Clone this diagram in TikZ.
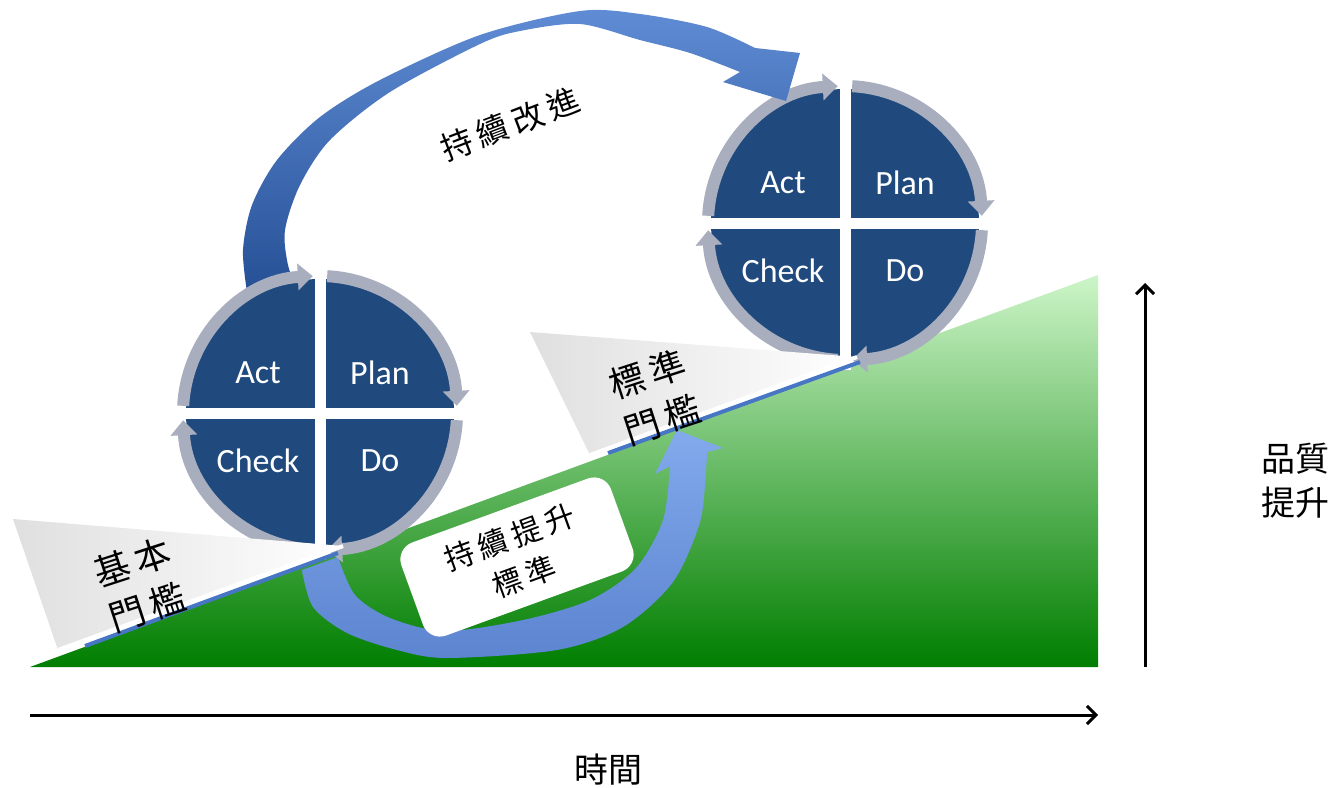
\documentclass[tikz,border=0pt]{standalone}
\usepackage{fontspec}
\setmainfont{Carlito}
\newfontfamily\cjk{Noto Sans CJK TC}
\newfontfamily\cjkwide[LetterSpace=18]{Noto Sans CJK TC}
\usetikzlibrary{arrows.meta}

\definecolor{pdcablue}{RGB}{32,74,126}
\definecolor{ringgray}{RGB}{168,174,190}
\definecolor{loopdark}{RGB}{38,80,150}
\definecolor{looplight}{RGB}{95,140,212}
\definecolor{liftdark}{RGB}{92,132,208}
\definecolor{liftlight}{RGB}{130,170,236}
\definecolor{rampdark}{RGB}{0,126,0}
\definecolor{ramplight}{RGB}{205,245,200}
\definecolor{sillblue}{RGB}{70,118,196}
\definecolor{sillgray}{RGB}{176,176,176}

\tikzset{
  pdcatext/.style={text=white, font=\fontsize{34}{34}\selectfont},
  ringarrow/.style={draw=ringgray, line width=12pt, -{Triangle[length=15pt,width=26pt]}},
  cjktext/.style={font=\cjk\fontsize{34}{44}\selectfont, align=center},
  silltext/.style={font=\cjkwide\fontsize{36}{48}\selectfont, align=center},
  liftbox/.style={fill=white, rounded corners=18pt, minimum width=223pt, minimum height=99pt,
    font=\cjkwide\fontsize{30}{42}\selectfont, align=center},
  axisline/.style={line width=3pt, -{Straight Barb[length=9pt,width=18pt]}},
}

\newcommand{\pdcawheel}[1]{%
  \fill[pdcablue] (#1) circle[radius=134];
  \draw[white, line width=11pt] (#1) ++(-147,0) -- ++(294,0);
  \draw[white, line width=11pt] (#1) ++(0,-147) -- ++(0,294);
  % y runs downwards, so growing angles turn clockwise
  \draw[ringarrow] (#1) ++(183:137) arc[start angle=183, end angle=267, radius=137];
  \draw[ringarrow] (#1) ++(273:137) arc[start angle=273, end angle=357, radius=137];
  \draw[ringarrow] (#1) ++(3:137) arc[start angle=3, end angle=87, radius=137];
  \draw[ringarrow] (#1) ++(93:137) arc[start angle=93, end angle=177, radius=137];
  \path (#1) ++(-62,-40) node[pdcatext] (#1-act) {Act};
  \path (#1) ++(60,-40) node[pdcatext] (#1-plan) {Plan};
  \path (#1) ++(-62,48) node[pdcatext] (#1-check) {Check};
  \path (#1) ++(60,48) node[pdcatext] (#1-do) {Do};
}

\begin{document}
\begin{tikzpicture}[x=1pt, y=-1pt]
\useasboundingbox (0,0) rectangle (1335,787);

% quality ramp
\shade[top color=ramplight, bottom color=rampdark] (30,667) -- (1098,667) -- (1098,275) -- cycle;

% arrow that lifts the standard
\shade[top color=liftlight, bottom color=liftdark]
  plot[smooth] coordinates {(302,570) (313,607) (347,633) (397,650) (447,658) (557,650)
    (623,627) (673,582) (700,522) (706,470) (707,452)}
  -- (723,448) -- (677,430) -- (655,474)
  -- plot[smooth] coordinates {(670,466) (663,520) (636,568) (590,600) (523,620)
    (445,631) (390,618) (355,595) (338,557)} -- cycle;
\node[liftbox, rotate=20] (lift) at (517,557) {持續提升\\標準};

\coordinate (highcycle) at (845,223);
\coordinate (lowcycle) at (320,413);
\pdcawheel{highcycle}

% improvement loop from the lower cycle to the higher one
\shade[top color=looplight, bottom color=loopdark]
  plot[smooth] coordinates {(247,292) (243,250) (252,205) (277,160) (320,117) (380,80)
    (480,35) (580,11) (640,14) (707,27) (755,48)}
  -- (800,53) -- (786,101) -- (723,82)
  -- plot[smooth] coordinates {(740,72) (690,53) (640,40) (580,24) (520,31) (480,44)
    (390,92) (330,140) (300,185) (285,230) (288,265) (298,292)} -- cycle;

\pdcawheel{lowcycle}

% thresholds
\draw[sillblue, line width=4pt] (85,646) -- (338,553);
\draw[sillblue, line width=4pt] (608,453) -- (860,362);
\shade[left color=sillgray!40, middle color=sillgray, right color=white]
  (13,519) -- (343,546) -- (58,650) -- cycle;
\shade[left color=sillgray!40, middle color=sillgray, right color=white]
  (530,332) -- (857,357) -- (590,455) -- cycle;
\draw[white, line width=4pt] (58,650) -- (343,546);
\draw[white, line width=4pt] (590,455) -- (857,357);
\node[silltext, rotate=18] (basic) at (140,585) {基本\\門檻};
\node[silltext, rotate=18] (standard) at (655,397) {標準\\門檻};

\node[font=\cjkwide\fontsize{32}{40}\selectfont, rotate=21] (improve) at (510,124) {持續改進};

% axes
\draw[axisline] (30,715) -- (1098,715);
\draw[axisline] (1145,667) -- (1145,283);
\node[cjktext] (time) at (608,770) {時間};
\node[cjktext] (quality) at (1295,481) {品質\\提升};
\end{tikzpicture}
\end{document}
